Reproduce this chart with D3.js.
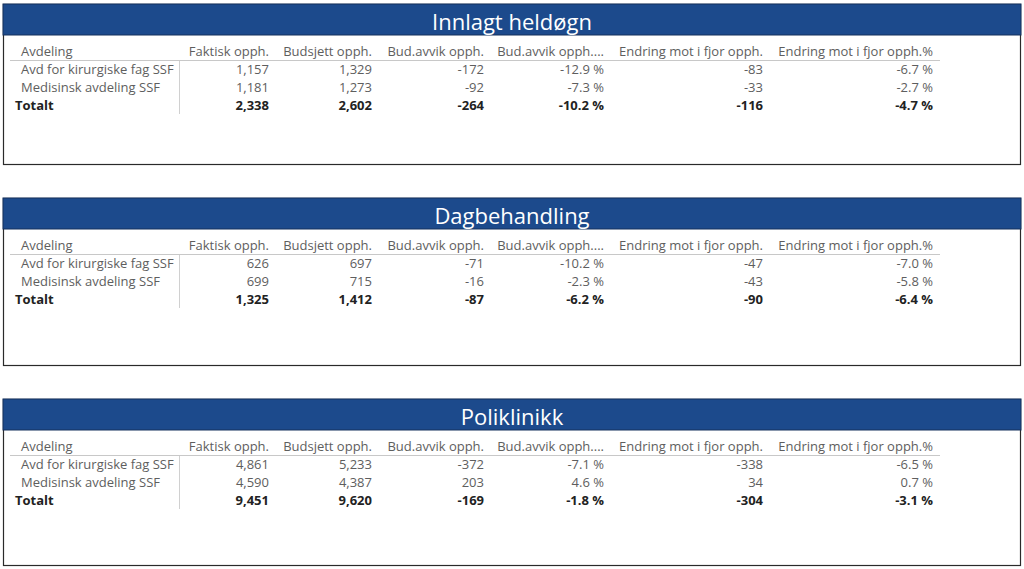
<!DOCTYPE html>
<html><head><meta charset="utf-8">
<script src="https://cdn.jsdelivr.net/npm/d3@7"></script>
<style>html,body{margin:0;padding:0;background:#fff;}svg{display:block;}</style>
</head><body>
<script>
const titles = ["Innlagt heldøgn", "Dagbehandling", "Poliklinikk"];
const columns = ["Avdeling","Faktisk opph.","Budsjett opph.","Bud.avvik opph.","Bud.avvik opph....","Endring mot i fjor opph.","Endring mot i fjor opph.%"];
const departments = ["Avd for kirurgiske fag SSF","Medisinsk avdeling SSF","Totalt"];
// per section: rows [kirurgi, medisin, totalt]
const faktisk   = [[1157,1181,2338],[626,699,1325],[4861,4590,9451]];
const budsjett  = [[1329,1273,2602],[697,715,1412],[5233,4387,9620]];
const budAvvik  = [[-172,-92,-264],[-71,-16,-87],[-372,203,-169]];
const budAvvikPct = [[-12.9,-7.3,-10.2],[-10.2,-2.3,-6.2],[-7.1,4.6,-1.8]];
const endring   = [[-83,-33,-116],[-47,-43,-90],[-338,34,-304]];
const endringPct = [[-6.7,-2.7,-4.7],[-7.0,-5.8,-6.4],[-6.5,0.7,-3.1]];

const W = 1024, H = 569;
const svg = d3.select("body").append("svg").attr("width", W).attr("height", H);
const font = "'Open Sans', 'Noto Sans', sans-serif";
const fs = 13;

const panelY = d3.scaleOrdinal().domain(titles).range([4, 198, 399]);
const panelH = d3.scaleOrdinal().domain(titles).range([160, 167, 166]);
const colX = d3.scaleOrdinal().domain(columns).range([21, 269, 372, 484, 604, 763, 933]);
const rowY = d3.scalePoint().domain(["header", ...departments]).range([52, 106]);

const fmtInt = d3.format(",");
const fmtPct = v => d3.format(".1f")(v).replace("−","-") + " %";
const fmtI = v => fmtInt(v).replace("−","-");

titles.forEach((t, si) => {
  const g = svg.append("g").attr("transform", `translate(0,${panelY(t)})`);
  const h = panelH(t);
  g.append("rect").attr("x", 3.5).attr("y", 0.5).attr("width", 1017).attr("height", h)
    .attr("fill", "#fff").attr("stroke", "#2a2a2a").attr("stroke-width", 1.2);
  g.append("rect").attr("x", 3).attr("y", 0).attr("width", 1018).attr("height", 31)
    .attr("fill", "#1c4a8c").attr("stroke", "#14305c").attr("stroke-width", 1);
  g.append("text").attr("x", 512).attr("y", 26).attr("text-anchor", "middle")
    .attr("font-family", font).attr("font-size", 22).attr("fill", "#fff").text(t);

  // header row
  g.selectAll("text.hdr").data(columns).join("text").attr("class", "hdr")
    .attr("x", d => colX(d)).attr("y", rowY("header"))
    .attr("text-anchor", (d, i) => i === 0 ? "start" : "end")
    .attr("font-family", font).attr("font-size", fs).attr("fill", "#5e5e5e").text(d => d);
  g.append("line").attr("x1", 10).attr("x2", 940).attr("y1", 56.5).attr("y2", 56.5)
    .attr("stroke", "#c8c8c8").attr("stroke-width", 1);
  g.append("line").attr("x1", 179.5).attr("x2", 179.5).attr("y1", 57).attr("y2", 110)
    .attr("stroke", "#d0d0d0").attr("stroke-width", 1);

  const series = [faktisk, budsjett, budAvvik, budAvvikPct, endring, endringPct];
  const fmts = [fmtI, fmtI, fmtI, fmtPct, fmtI, fmtPct];
  departments.forEach((dep, ri) => {
    const isTot = dep === "Totalt";
    const y = rowY(dep);
    g.append("text").attr("x", isTot ? 15 : colX(columns[0])).attr("y", y)
      .attr("font-family", font).attr("font-size", fs)
      .attr("font-weight", isTot ? "bold" : "normal")
      .attr("fill", isTot ? "#222" : "#5e5e5e").text(dep);
    series.forEach((s, ci) => {
      g.append("text").attr("x", colX(columns[ci + 1])).attr("y", y)
        .attr("text-anchor", "end").attr("font-family", font).attr("font-size", fs)
        .attr("font-weight", isTot ? "bold" : "normal")
        .attr("fill", isTot ? "#222" : "#5e5e5e").text(fmts[ci](s[si][ri]));
    });
  });
});
</script>
</body></html>
